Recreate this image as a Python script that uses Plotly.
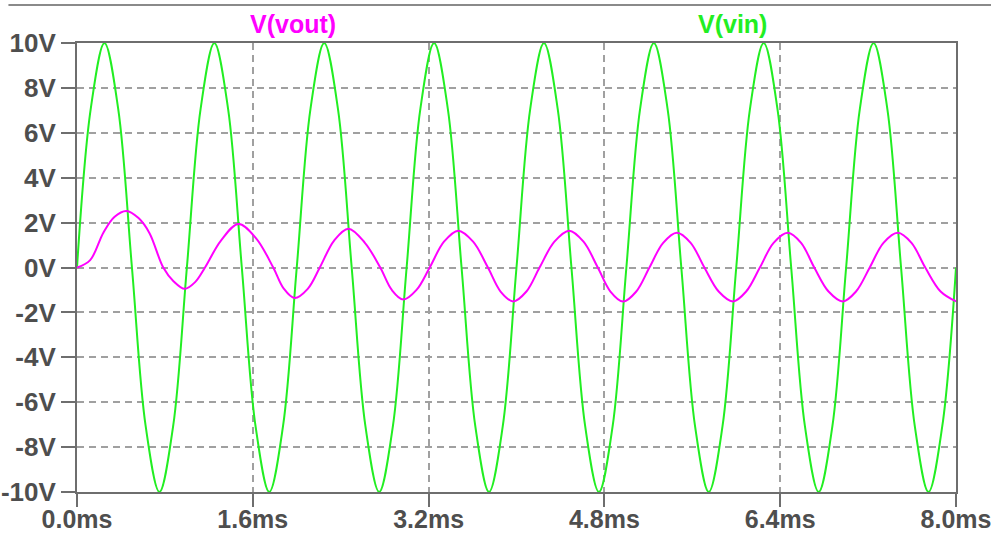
import plotly.graph_objects as go

# Transient simulation: input sine and filtered output (time in ms, volts)
vin_t_ms = [0.0, 0.125, 0.25, 0.375, 0.5, 0.625, 0.75, 0.875,
            1.0, 1.125, 1.25, 1.375, 1.5, 1.625, 1.75, 1.875,
            2.0, 2.125, 2.25, 2.375, 2.5, 2.625, 2.75, 2.875,
            3.0, 3.125, 3.25, 3.375, 3.5, 3.625, 3.75, 3.875,
            4.0, 4.125, 4.25, 4.375, 4.5, 4.625, 4.75, 4.875,
            5.0, 5.125, 5.25, 5.375, 5.5, 5.625, 5.75, 5.875,
            6.0, 6.125, 6.25, 6.375, 6.5, 6.625, 6.75, 6.875,
            7.0, 7.125, 7.25, 7.375, 7.5, 7.625, 7.75, 7.875, 8.0]
vin_v = [0.0, 7.07, 10.0, 7.07, 0.0, -7.07, -10.0, -7.07,
         0.0, 7.07, 10.0, 7.07, 0.0, -7.07, -10.0, -7.07,
         0.0, 7.07, 10.0, 7.07, 0.0, -7.07, -10.0, -7.07,
         0.0, 7.07, 10.0, 7.07, 0.0, -7.07, -10.0, -7.07,
         0.0, 7.07, 10.0, 7.07, 0.0, -7.07, -10.0, -7.07,
         0.0, 7.07, 10.0, 7.07, 0.0, -7.07, -10.0, -7.07,
         0.0, 7.07, 10.0, 7.07, 0.0, -7.07, -10.0, -7.07,
         0.0, 7.07, 10.0, 7.07, 0.0, -7.07, -10.0, -7.07, 0.0]

vout_t_ms = [0.0, 0.12, 0.24, 0.34, 0.45, 0.56, 0.66, 0.785, 0.88, 0.98,
             1.075, 1.165, 1.31, 1.47, 1.63, 1.786, 1.88, 1.98, 2.10, 2.21,
             2.34, 2.47, 2.62, 2.76, 2.865, 2.97, 3.09, 3.21, 3.34, 3.47,
             3.605, 3.74, 3.855, 3.97, 4.09, 4.21, 4.345, 4.48, 4.61, 4.74,
             4.855, 4.97, 5.09, 5.21, 5.335, 5.46, 5.585, 5.71, 5.84, 5.97,
             6.09, 6.215, 6.34, 6.47, 6.59, 6.71, 6.84, 6.97, 7.09, 7.215,
             7.34, 7.47, 7.595, 7.72, 7.86, 8.0]
vout_v = [0.0, 0.33, 1.55, 2.25, 2.52, 2.2, 1.53, 0.0, -0.62, -0.95,
          -0.65, 0.0, 1.2, 1.94, 1.3, 0.0, -0.93, -1.36, -0.95, 0.0,
          1.2, 1.73, 1.1, 0.0, -1.0, -1.43, -1.0, 0.0, 1.15, 1.64,
          1.15, 0.0, -1.07, -1.51, -1.07, 0.0, 1.15, 1.64, 1.15, 0.0,
          -1.07, -1.52, -1.07, 0.0, 1.1, 1.55, 1.1, 0.0, -1.07, -1.51,
          -1.07, 0.0, 1.1, 1.55, 1.1, 0.0, -1.07, -1.51, -1.07, 0.0,
          1.1, 1.55, 1.1, 0.0, -1.07, -1.51]

x_tick_vals = [0.0, 1.6, 3.2, 4.8, 6.4, 8.0]
x_tick_text = ["0.0ms", "1.6ms", "3.2ms", "4.8ms", "6.4ms", "8.0ms"]
y_tick_vals = [-10, -8, -6, -4, -2, 0, 2, 4, 6, 8, 10]
y_tick_text = ["-10V", "-8V", "-6V", "-4V", "-2V", "0V", "2V", "4V", "6V", "8V", "10V"]

GREEN = "#22ee22"
MAGENTA = "#ff00ff"
FRAME = "#6e6e6e"
GRID = "#a0a0a0"
TEXT = "#4e4e4e"
FONT = "Liberation Sans"

fig = go.Figure()
fig.add_trace(go.Scatter(x=vin_t_ms, y=vin_v, mode="lines", name="V(vin)",
                         line=dict(color=GREEN, width=2, shape="spline", smoothing=1.0)))
fig.add_trace(go.Scatter(x=vout_t_ms, y=vout_v, mode="lines", name="V(vout)",
                         line=dict(color=MAGENTA, width=2, shape="spline", smoothing=1.0)))

axis_common = dict(
    showline=True, mirror=True, linecolor=FRAME, linewidth=2,
    showgrid=True, gridcolor=GRID, gridwidth=1.5, griddash="7px,5px",
    zeroline=False, ticks="outside", tickcolor=FRAME, tickwidth=2,
    tickmode="array", automargin=False, ticklabeloverflow="allow",
)

fig.update_xaxes(range=[0, 8], tickvals=x_tick_vals, ticktext=x_tick_text,
                 ticklen=13, ticklabelstandoff=-9,
                 tickfont=dict(family=FONT, size=25, color=TEXT, weight="bold"),
                 **axis_common)
fig.update_yaxes(range=[-10, 10], tickvals=y_tick_vals, ticktext=y_tick_text,
                 ticklen=14, ticklabelstandoff=0,
                 tickfont=dict(family=FONT, size=26, color=TEXT, weight="bold"),
                 **axis_common)

# trace labels above the plot frame
fig.add_annotation(text="V(vout)", xref="paper", yref="paper", x=0.2463, y=1.042,
                   xanchor="center", yanchor="middle", showarrow=False,
                   font=dict(family=FONT, size=25, color=MAGENTA, weight="bold"))
fig.add_annotation(text="V(vin)", xref="paper", yref="paper", x=0.7457, y=1.042,
                   xanchor="center", yanchor="middle", showarrow=False,
                   font=dict(family=FONT, size=25, color=GREEN, weight="bold"))

# window edge line across the top
fig.add_shape(type="line", xref="paper", yref="paper",
              x0=-0.078, x1=1.05, y0=1.0846, y1=1.0846,
              line=dict(color="#8a8a8a", width=2))

fig.update_layout(
    width=991, height=535,
    margin=dict(l=77, r=35, t=43, b=43),
    paper_bgcolor="white", plot_bgcolor="white",
    showlegend=False,
)

fig.write_html("out.html")
